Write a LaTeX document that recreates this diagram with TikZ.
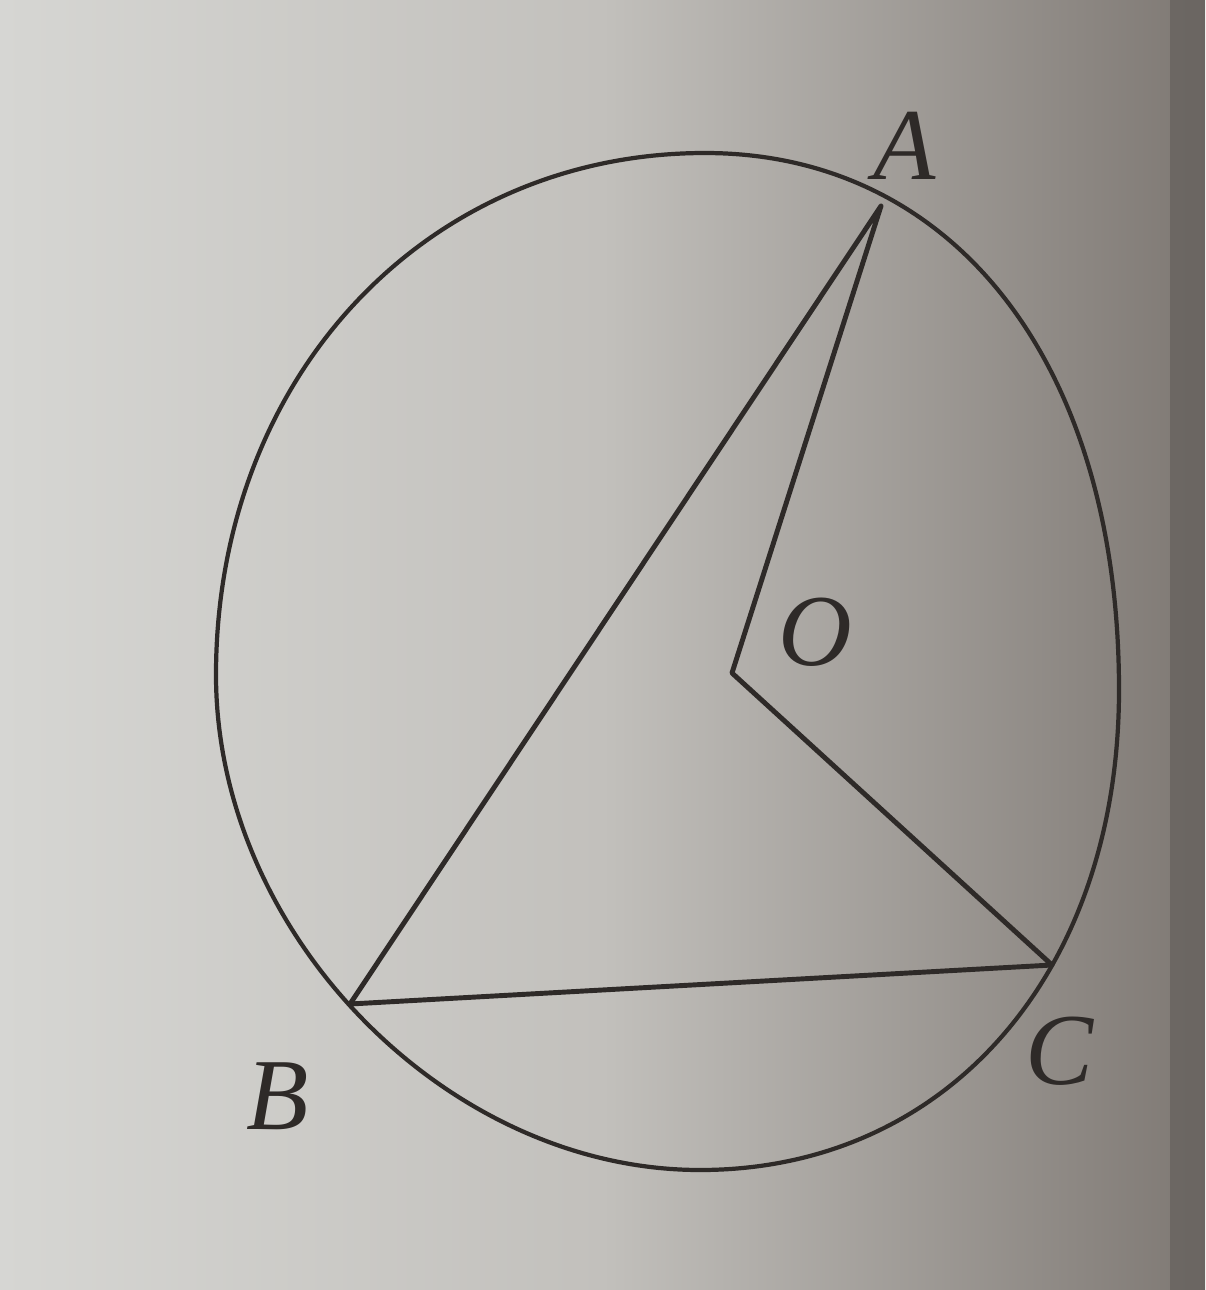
\documentclass[tikz,border=0pt]{standalone}
\usepackage{fontspec}
\setmainfont{Liberation Serif}
\definecolor{paperL}{HTML}{D6D6D3}
\definecolor{paperM}{HTML}{C2C0BC}
\definecolor{paperR}{HTML}{7E7873}
\definecolor{ink}{HTML}{2E2A28}
\begin{document}
\begin{tikzpicture}[x=0.01cm,y=-0.01cm,
  edge/.style={draw=ink,line width=1.4pt,line join=round,line cap=round},
  rim/.style={draw=ink,line width=1.2pt},
  lbl/.style={text=ink,font=\fontsize{29}{31}\selectfont\itshape,inner sep=0pt}]
\useasboundingbox (0,0) rectangle (1205,1290);
\shade[left color=paperL,right color=paperR,middle color=paperM] (0,0) rectangle (1205,1290);
\fill[paperR!70!black,opacity=0.5] (1170,0) rectangle (1205,1290);
\coordinate (A) at (881,206);
\coordinate (B) at (350,1004);
\coordinate (C) at (1052,965);
\coordinate (O) at (732,673);
\coordinate (T) at (705,153);
\coordinate (R) at (1119,690);
\coordinate (Bt) at (700,1170);
\coordinate (L) at (216,675);
\draw[rim] (T) .. controls (955,153) and (1119,365) .. (R)
  .. controls (1119,973) and (947,1170) .. (Bt)
  .. controls (447,1170) and (216,934) .. (L)
  .. controls (216,377) and (426,153) .. cycle;
\draw[edge] (A) -- (B) -- (C) -- (O) -- (A);
\node[lbl] (lA) at (905,146) {A};
\node[lbl] (lO) at (815,632) {O};
\node[lbl] (lB) at (278,1096) {B};
\node[lbl] (lC) at (1060,1051) {C};
\end{tikzpicture}
\end{document}
